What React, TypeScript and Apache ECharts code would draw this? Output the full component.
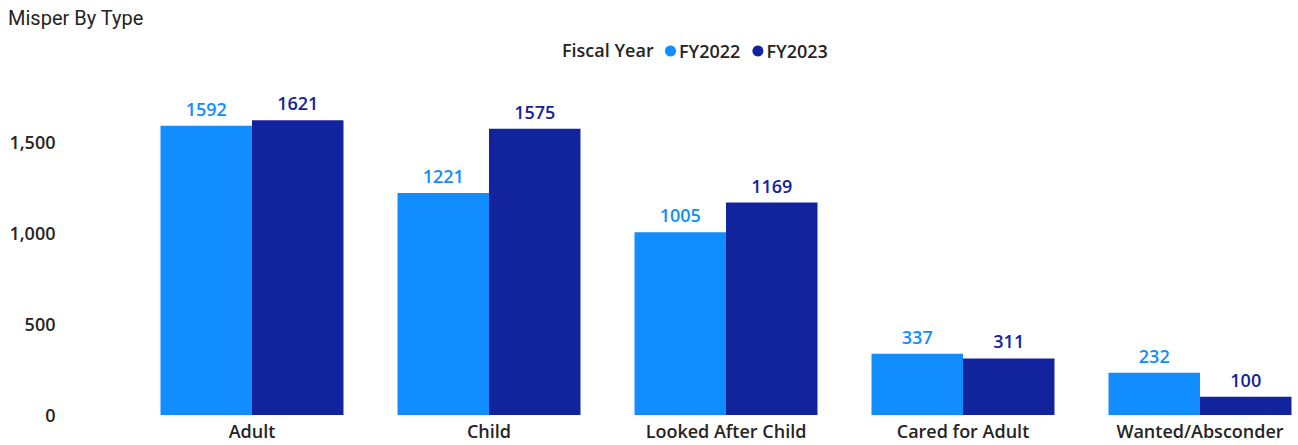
import React, { useEffect, useRef } from "react";
import * as echarts from "echarts";

const categories = ["Adult", "Child", "Looked After Child", "Cared for Adult", "Wanted/Absconder"];
const fy2022 = [1592, 1221, 1005, 337, 232];
const fy2023 = [1621, 1575, 1169, 311, 100];
const seriesNames = ["FY2022", "FY2023"];
const colors = ["#118DFF", "#12239E"];

const FONT = "'Open Sans', 'Noto Sans', sans-serif";
const TEXT = "#252423";

export default function App() {
  const ref = useRef<HTMLDivElement>(null);
  useEffect(() => {
    if (!ref.current) return;
    const chart = echarts.init(ref.current, undefined, { renderer: "svg" });
    const labelStyle = (c: string) => ({
      show: true,
      position: "top",
      distance: 8,
      fontFamily: FONT,
      fontSize: 18,
      fontWeight: 600,
      color: c,
    });
    chart.setOption({
      animation: false,
      backgroundColor: "#ffffff",
      title: {
        text: "Misper By Type",
        left: 3,
        top: 3,
        textStyle: { fontFamily: "'Roboto', sans-serif", fontSize: 20, fontWeight: "normal", color: TEXT },
      },
      graphic: [
        {
          type: "text",
          left: 562,
          top: 41,
          style: { text: "Fiscal Year", font: `600 18px ${FONT}`, fill: TEXT },
        },
      ],
      legend: {
        left: 665,
        top: 42,
        padding: 0,
        icon: "circle",
        itemWidth: 11,
        itemHeight: 11,
        itemGap: 12,
        data: seriesNames,
        textStyle: { fontFamily: FONT, fontSize: 18, fontWeight: 600, color: TEXT, padding: [0, 0, 0, -2] },
      },
      grid: { left: 133.5, width: 1185, top: 106, bottom: 30, containLabel: false },
      xAxis: {
        type: "category",
        data: categories,
        axisTick: { show: false },
        axisLine: { show: false },
        axisLabel: { fontFamily: FONT, fontSize: 18, fontWeight: 600, color: TEXT, margin: 7 },
      },
      yAxis: {
        type: "value",
        min: 0,
        max: 1700,
        interval: 500,
        splitLine: { show: false },
        axisLabel: {
          fontFamily: FONT,
          fontSize: 18,
          fontWeight: 600,
          color: TEXT,
          showMaxLabel: false,
          margin: 78,
          align: "right",
          formatter: (v: number) => v.toLocaleString("en-US"),
        },
      },
      series: [
        {
          name: seriesNames[0],
          type: "bar",
          data: fy2022,
          itemStyle: { color: colors[0] },
          barGap: "0%",
          barCategoryGap: "22.8%",
          label: labelStyle(colors[0]),
        },
        {
          name: seriesNames[1],
          type: "bar",
          data: fy2023,
          itemStyle: { color: colors[1] },
          barGap: "0%",
          barCategoryGap: "22.8%",
          label: labelStyle(colors[1]),
        },
      ],
    });
    return () => chart.dispose();
  }, []);
  return (
    <div style={{ position: "absolute", left: 0, top: 0, width: 1298, height: 445, overflow: "hidden" }}>
      <div ref={ref} style={{ width: 1330, height: 445 }} />
    </div>
  );
}
